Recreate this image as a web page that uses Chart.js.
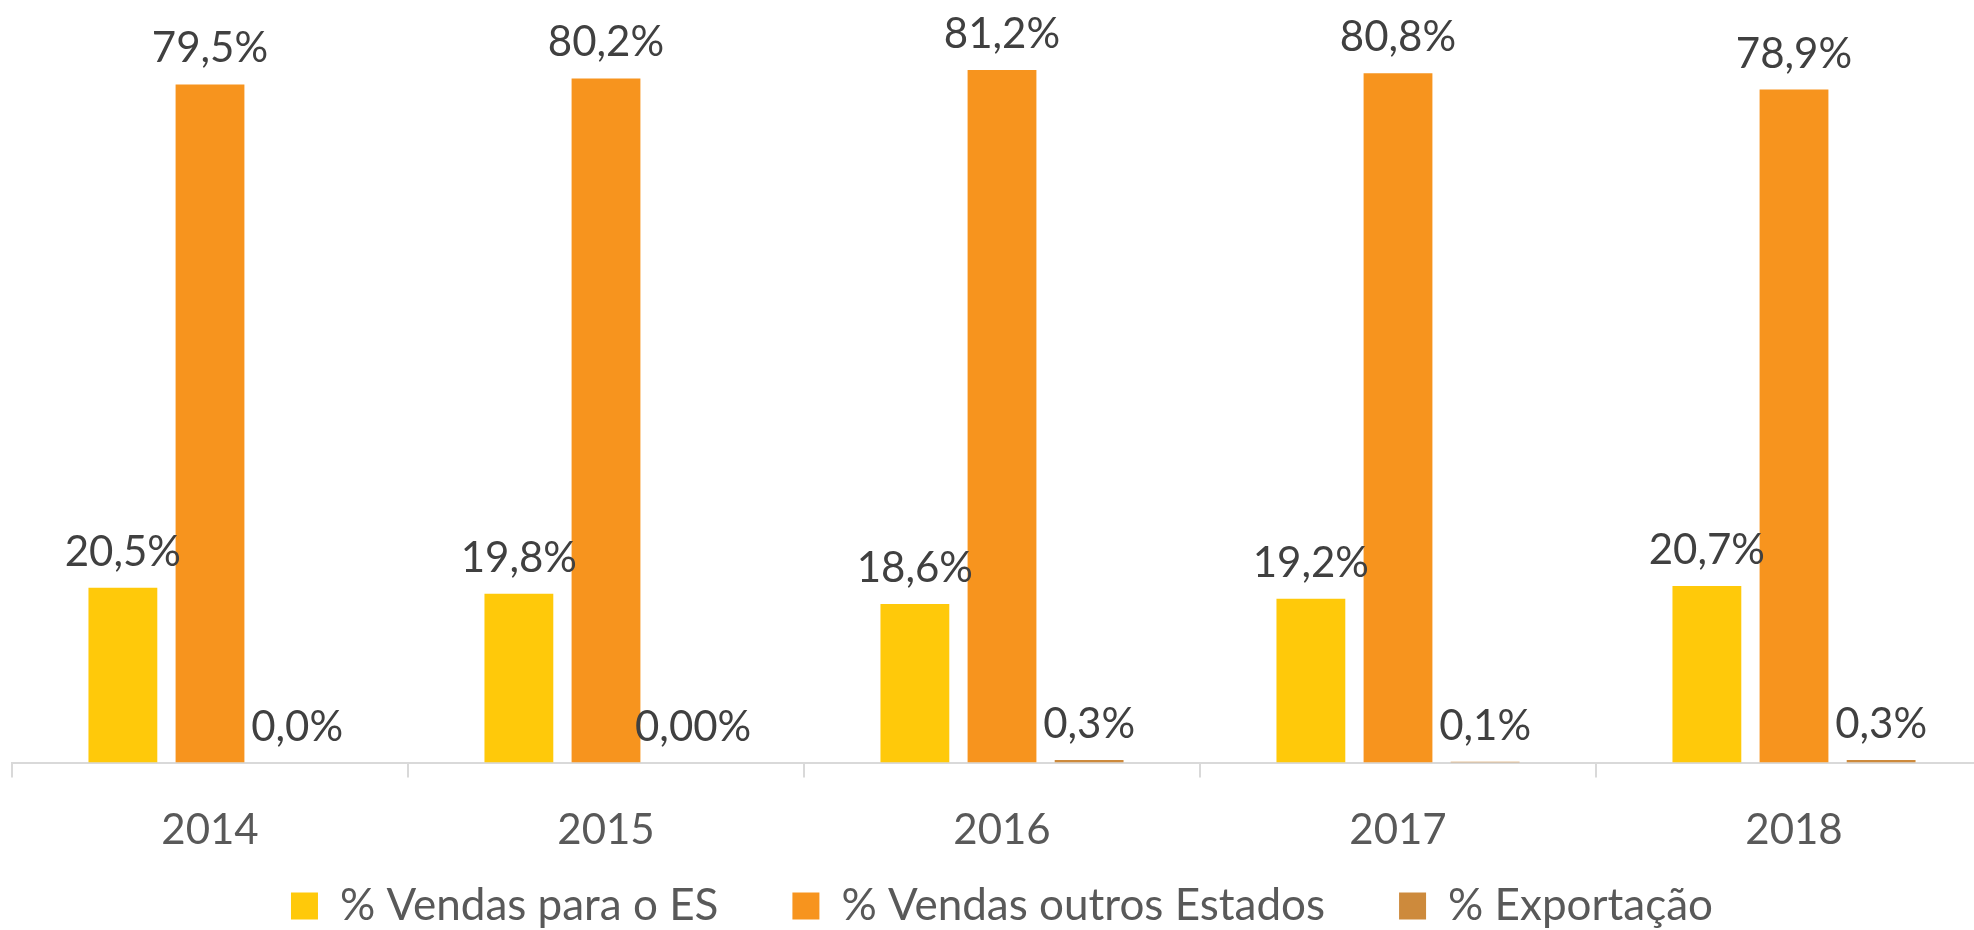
<!DOCTYPE html>
<html>
<head>
<meta charset="utf-8">
<script src="https://cdn.jsdelivr.net/npm/chart.js@4/dist/chart.umd.min.js"></script>
<style>
    html, body { margin: 0; padding: 0; background: #fff; overflow: hidden; }
    .chart-box { width: 2020px; height: 930px; position: relative; }
</style>
</head>
<body>
<div class="chart-box"><canvas id="chart"></canvas></div>
<script>
const years = ["2014", "2015", "2016", "2017", "2018"];
const vendasES = [20.5, 19.8, 18.6, 19.2, 20.7];
const vendasOutros = [79.5, 80.2, 81.2, 80.8, 78.9];
const exportacao = [0.0, 0.0, 0.3, 0.1, 0.3];
// the 2015 export label shows two decimals in the original
const exportDecimals = [1, 2, 1, 1, 1];

const font = "Lato";

// draws the value above each bar
const valueLabels = {
    id: "valueLabels",
    afterDatasetsDraw(chart) {
        const ctx = chart.ctx;
        ctx.save();
        ctx.font = `42px ${font}`;
        ctx.fillStyle = "#404040";
        ctx.textAlign = "center";
        ctx.textBaseline = "alphabetic";
        chart.data.datasets.forEach((ds, i) => {
            chart.getDatasetMeta(i).data.forEach((bar, j) => {
                let dec = ds.decimals ? ds.decimals[j] : 1;
                let text = ds.data[j].toFixed(dec).replace(".", ",") + "%";
                ctx.fillText(text, bar.x, bar.y - 22);
            });
        });
        ctx.restore();
    }
};

// legend padding is wide for the gaps between items, so keep the box
// short and move it up afterwards
const legendFit = {
    id: "legendFit",
    afterInit(chart) {
        const legend = chart.legend;
        const fit = legend.fit;
        legend.fit = function() {
            fit.call(legend);
            legend.height = 46;
        };
    },
    afterLayout(chart) {
        const legend = chart.legend;
        legend.top = legend.bottom - 120;
    }
};

new Chart(document.getElementById("chart"), {
    type: "bar",
    data: {
        labels: years,
        datasets: [
            {
                label: "% Vendas para o ES",
                data: vendasES,
                backgroundColor: "#FFC90A"
            },
            {
                label: "% Vendas outros Estados",
                data: vendasOutros,
                backgroundColor: "#F7941E"
            },
            {
                label: "% Exportação",
                data: exportacao,
                decimals: exportDecimals,
                backgroundColor: "#CD8A3C"
            }
        ]
    },
    plugins: [valueLabels, legendFit],
    options: {
        responsive: true,
        maintainAspectRatio: false,
        animation: false,
        categoryPercentage: 0.66,
        barPercentage: 0.79,
        layout: {
            padding: { left: 12, right: 28, top: 0, bottom: 0 }
        },
        plugins: {
            tooltip: { enabled: false },
            legend: {
                position: "bottom",
                labels: {
                    boxWidth: 27,
                    boxHeight: 27,
                    padding: 74,
                    color: "#595959",
                    font: { family: font, size: 44 }
                }
            }
        },
        scales: {
            x: {
                grid: {
                    drawOnChartArea: false,
                    tickLength: 15,
                    color: "#D9D9D9",
                    lineWidth: 2
                },
                border: { display: true, color: "#D9D9D9", width: 2 },
                ticks: {
                    padding: 28,
                    color: "#595959",
                    font: { family: font, size: 42, lineHeight: 1.2 }
                }
            },
            y: {
                display: false,
                min: 0,
                max: 89.4
            }
        }
    }
});
</script>
</body>
</html>
